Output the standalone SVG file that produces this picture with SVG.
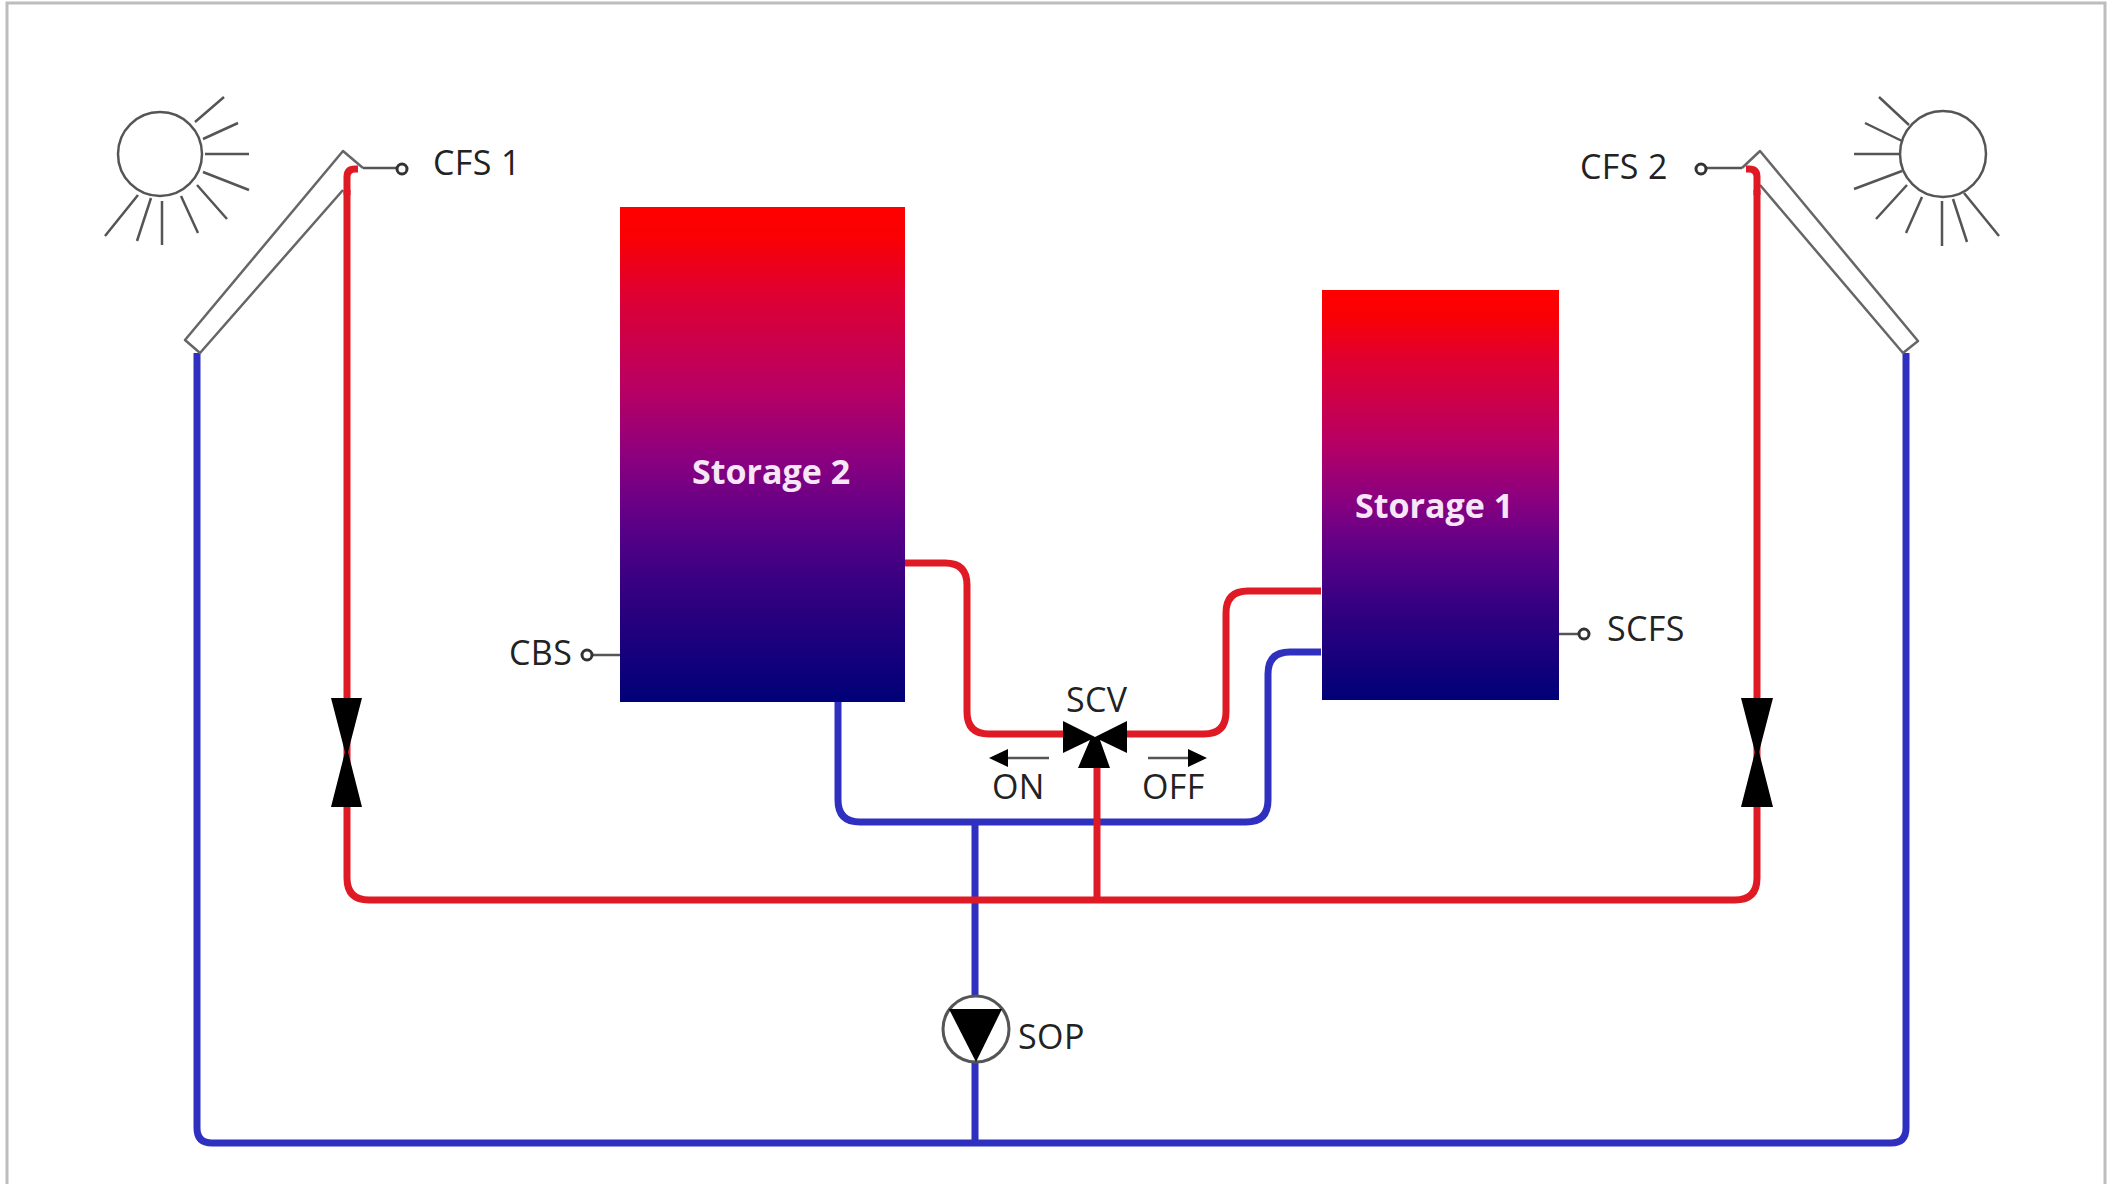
<svg xmlns="http://www.w3.org/2000/svg" width="2112" height="1184" viewBox="0 0 2112 1184">
<style>
.pipe{fill:none;stroke-width:7;stroke-linejoin:round}
.red{stroke:#e01a24}
.blue{stroke:#3030c0}
.ray{fill:none;stroke:#555;stroke-width:2.5}
.panel{fill:#fff;stroke:none}
.edge{fill:none;stroke:#666;stroke-width:2.5;stroke-linejoin:round}
.wire{fill:none;stroke:#555;stroke-width:2.5}
.probe{fill:#fff;stroke:#333;stroke-width:3}
.solid{fill:#000}
text{font-family:"Open Sans","Noto Sans","Liberation Sans",sans-serif;font-size:34px;letter-spacing:.4px;fill:#222}
.tank{font-weight:700;fill:#f7e6f7;letter-spacing:0}
</style>
<defs>
<linearGradient id="heat" x1="0" y1="0" x2="0" y2="1">
<stop offset="0" stop-color="#ff0000"/>
<stop offset="0.06" stop-color="#fa0004"/>
<stop offset="0.17" stop-color="#e00030"/>
<stop offset="0.37" stop-color="#b80064"/>
<stop offset="0.51" stop-color="#8a0080"/>
<stop offset="0.65" stop-color="#580088"/>
<stop offset="0.79" stop-color="#300080"/>
<stop offset="1" stop-color="#000078"/>
</linearGradient>
</defs>
<rect width="2112" height="1184" fill="#fff"/>
<path d="M7 1184V3H2105V1184" fill="none" stroke="#bdbdbd" stroke-width="3"/>
<g id="connectors">
<path class="pipe blue" d="M197 353V1128Q197 1143 212 1143H1891Q1906 1143 1906 1128V353"/>
<path class="pipe blue" d="M975 822V1143"/>
<path class="pipe blue" d="M838 702V800Q838 822 860 822H1246Q1268 822 1268 800V674Q1268 652 1290 652H1321"/>
<path class="pipe red" d="M347 190V878Q347 900 369 900H1735Q1757 900 1757 878V190"/>
<path class="pipe red" d="M905 563H945Q967 563 967 585V712Q967 734 989 734H1070"/>
<path class="pipe red" d="M1321 591H1248Q1226 591 1226 613V712Q1226 734 1204 734H1120"/>
<path class="pipe red" d="M1097 765V900"/>
</g>
<g id="sun-left">
<circle class="ray" cx="160" cy="154" r="42"/>
<path class="ray" d="M195 122L224 97M203 139L238 123M205 154H249M203 172L249 190M197 185L227 219M181 196L198 233M162 201V245M151 198L137 241M138 195L105 236"/>
</g>
<g id="sun-right">
<circle class="ray" cx="1943" cy="154" r="43"/>
<path class="ray" d="M1909 125L1879 97M1902 141L1865 123M1900 154H1854M1902 171L1854 189M1907 185L1876 219M1922 197L1906 233M1942 201V246M1953 199L1967 242M1964 193L1999 236"/>
</g>
<g id="collector-1">
<path class="panel" d="M343 151L363 168L343 190L200 353L185 340Z"/>
<path class="edge" d="M343 190L200 353L185 340L343 151L363 168"/>
<path class="pipe red" d="M358 169H355Q347 169 347 177V195"/>
<path class="wire" d="M363 168H397"/>
<circle class="probe" cx="402" cy="169" r="5"/>
<text x="433" y="175">CFS 1</text>
</g>
<g id="collector-2">
<path class="panel" d="M1760 151L1742 168L1760 185L1903 353L1918 341Z"/>
<path class="edge" d="M1760 185L1903 353L1918 341L1760 151L1742 168"/>
<path class="pipe red" d="M1746 169H1749Q1757 169 1757 177V195"/>
<path class="wire" d="M1742 168H1706"/>
<circle class="probe" cx="1701" cy="169" r="5"/>
<text x="1580" y="179">CFS 2</text>
</g>
<g id="storage-2">
<rect x="620" y="207" width="285" height="495" fill="url(#heat)"/>
<text class="tank" x="692" y="484">Storage 2</text>
</g>
<g id="storage-1">
<rect x="1322" y="290" width="237" height="410" fill="url(#heat)"/>
<text class="tank" x="1355" y="518">Storage 1</text>
</g>
<g id="sensor-cbs">
<path class="wire" d="M592 655H620"/>
<circle class="probe" cx="587" cy="655" r="5"/>
<text x="509" y="665">CBS</text>
</g>
<g id="sensor-scfs">
<path class="wire" d="M1559 634H1579"/>
<circle class="probe" cx="1584" cy="634" r="5"/>
<text x="1607" y="641">SCFS</text>
</g>
<g id="valve-left">
<path class="solid" d="M331 698H362L348 752L362 807H331L345 752Z"/>
</g>
<g id="valve-right">
<path class="solid" d="M1741 698H1773L1759 752L1773 807H1741L1755 752Z"/>
</g>
<g id="valve-scv">
<path class="solid" d="M1063 721L1095 737L1127 721V753L1100 740L1110 768H1078L1090 740L1063 753Z"/>
<text x="1066" y="712">SCV</text>
<path class="wire" d="M1049 758H1005M1148 758H1190"/>
<path class="solid" d="M989 758L1008 749V767ZM1207 758L1188 749V767Z"/>
<text x="992" y="799">ON</text>
<text x="1142" y="799">OFF</text>
</g>
<g id="pump-sop">
<circle cx="976" cy="1029" r="33" fill="#fff" stroke="#555" stroke-width="3"/>
<path class="solid" d="M949 1009H1002L976 1062Z"/>
<text x="1018" y="1049">SOP</text>
</g>
</svg>
